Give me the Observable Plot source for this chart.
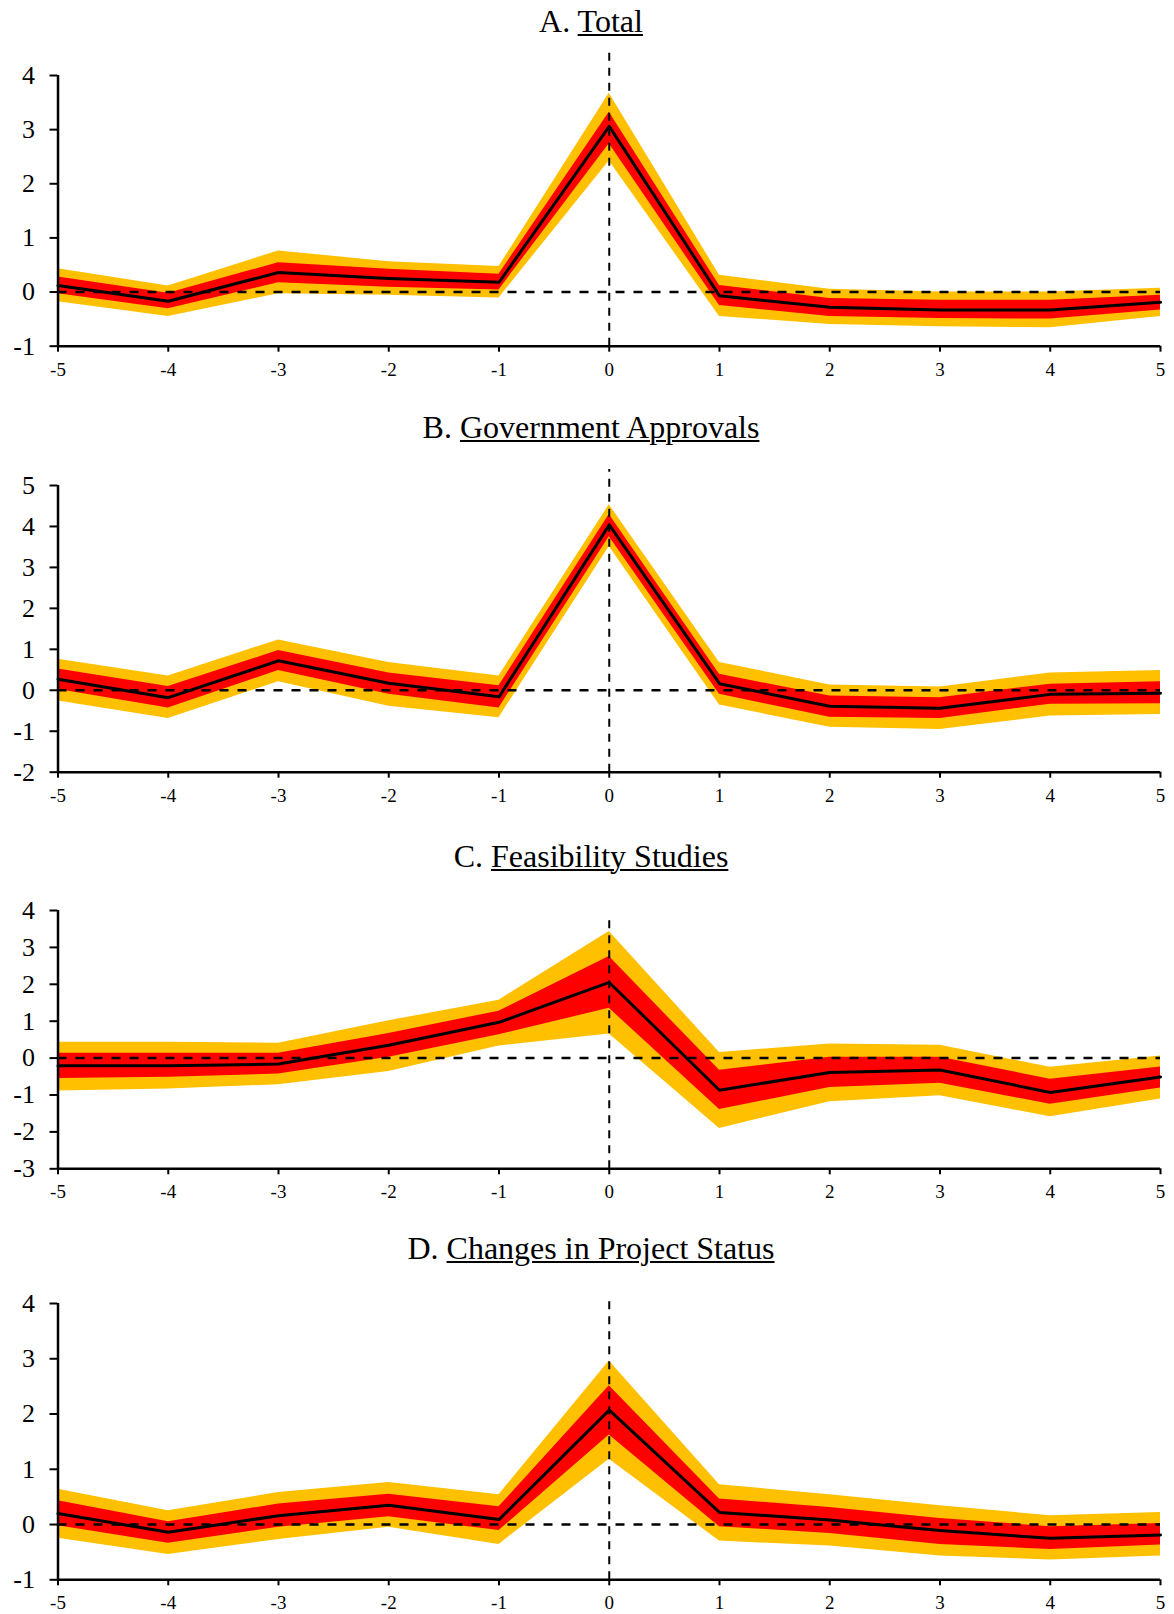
<!DOCTYPE html>
<html>
<head>
<meta charset="utf-8">
<script src="https://cdn.jsdelivr.net/npm/d3@7"></script>
<script src="https://cdn.jsdelivr.net/npm/@observablehq/plot@0.6"></script>
<style>
  html, body { margin: 0; padding: 0; background: #fff; }
  body { width: 1174px; height: 1614px; position: relative; overflow: hidden; font-family: "Liberation Serif", "Times New Roman", serif; color: #000; }
  .title { position: absolute; left: 591px; transform: translateX(-50%); white-space: nowrap; font-size: 32px; line-height: 32px; }
  .title u { text-decoration-thickness: 2px; text-underline-offset: 2px; }
  .panel { position: absolute; left: 0; }
  .panel svg, .panel svg text { font-family: "Liberation Serif", "Times New Roman", serif !important; }
  .panel svg g[aria-label="y-axis tick label"], .panel svg g[aria-label="y-axis tick label"] text { font-size: 26px !important; }
  .panel svg g[aria-label="x-axis tick label"], .panel svg g[aria-label="x-axis tick label"] text { font-size: 19px !important; }
</style>
</head>
<body>
<script>
// Horizons (x categories)
const horizons = [-5, -4, -3, -2, -1, 0, 1, 2, 3, 4, 5];

// Panel titles
const prefixes = ["A.", "B.", "C.", "D."];
const titles = ["Total", "Government Approvals", "Feasibility Studies", "Changes in Project Status"];

// Panel A: Total
const aEst   = [0.12, -0.17, 0.36, 0.25, 0.18, 3.06, -0.07, -0.28, -0.33, -0.33, -0.19];
const aRedLo = [-0.03, -0.31, 0.17, 0.09, 0.04, 2.74, -0.25, -0.45, -0.49, -0.50, -0.33];
const aRedHi = [0.28, -0.02, 0.54, 0.42, 0.33, 3.32, 0.12, -0.12, -0.15, -0.15, -0.06];
const aOrgLo = [-0.18, -0.45, -0.03, -0.06, -0.11, 2.42, -0.45, -0.60, -0.64, -0.66, -0.45];
const aOrgHi = [0.43, 0.11, 0.76, 0.56, 0.47, 3.67, 0.31, 0.05, 0.00, 0.00, 0.07];

// Panel B: Government Approvals
const bEst   = [0.27, -0.18, 0.72, 0.17, -0.16, 4.04, 0.16, -0.39, -0.44, -0.10, -0.07];
const bRedLo = [0.02, -0.43, 0.48, -0.10, -0.43, 3.75, -0.10, -0.66, -0.69, -0.34, -0.33];
const bRedHi = [0.52, 0.09, 0.97, 0.42, 0.11, 4.29, 0.39, -0.14, -0.18, 0.15, 0.21];
const bOrgLo = [-0.26, -0.69, 0.21, -0.39, -0.67, 3.51, -0.36, -0.90, -0.96, -0.63, -0.59];
const bOrgHi = [0.76, 0.35, 1.23, 0.68, 0.35, 4.53, 0.68, 0.13, 0.08, 0.42, 0.48];

// Panel C: Feasibility Studies
const cEst   = [-0.21, -0.21, -0.16, 0.35, 0.97, 2.05, -0.87, -0.39, -0.32, -0.93, -0.51];
const cRedLo = [-0.55, -0.52, -0.43, 0.02, 0.63, 1.35, -1.39, -0.80, -0.68, -1.25, -0.81];
const cRedHi = [0.13, 0.13, 0.13, 0.67, 1.27, 2.75, -0.33, 0.02, 0.02, -0.57, -0.24];
const cOrgLo = [-0.89, -0.84, -0.72, -0.36, 0.33, 0.65, -1.91, -1.18, -1.02, -1.59, -1.11];
const cOrgHi = [0.43, 0.43, 0.40, 1.01, 1.57, 3.43, 0.15, 0.38, 0.35, -0.25, 0.06];

// Panel D: Changes in Project Status
const dEst   = [0.20, -0.14, 0.16, 0.35, 0.09, 2.07, 0.22, 0.08, -0.11, -0.25, -0.19];
const dRedLo = [-0.02, -0.34, -0.05, 0.14, -0.11, 1.62, -0.04, -0.16, -0.36, -0.45, -0.37];
const dRedHi = [0.43, 0.05, 0.37, 0.55, 0.32, 2.51, 0.46, 0.31, 0.11, -0.04, 0.02];
const dOrgLo = [-0.25, -0.54, -0.27, -0.05, -0.36, 1.18, -0.30, -0.39, -0.57, -0.64, -0.57];
const dOrgHi = [0.64, 0.25, 0.58, 0.76, 0.54, 2.96, 0.72, 0.54, 0.34, 0.16, 0.22];

// Y-axis tick values per panel
const aTicks = [-1, 0, 1, 2, 3, 4];
const bTicks = [-2, -1, 0, 1, 2, 3, 4, 5];
const cTicks = [-3, -2, -1, 0, 1, 2, 3, 4];
const dTicks = [-1, 0, 1, 2, 3, 4];

const panels = [
  {est: aEst, rl: aRedLo, rh: aRedHi, ol: aOrgLo, oh: aOrgHi, ticks: aTicks, vTop: 4.41, top: 45, plotH: 270.7, titleTop: 4.9},
  {est: bEst, rl: bRedLo, rh: bRedHi, ol: bOrgLo, oh: bOrgHi, ticks: bTicks, vTop: 5.39, top: 455, plotH: 286.7, titleTop: 411},
  {est: cEst, rl: cRedLo, rh: cRedHi, ol: cOrgLo, oh: cOrgHi, ticks: cTicks, vTop: 3.78, top: 880, plotH: 258.3, titleTop: 839.9},
  {est: dEst, rl: dRedLo, rh: dRedHi, ol: dOrgLo, oh: dOrgHi, ticks: dTicks, vTop: 4.07, top: 1272.7, plotH: 276.3, titleTop: 1232}
];

const MT = 30, MB = 36;
const SERIF = "'Liberation Serif', 'Times New Roman', serif";

panels.forEach((p, k) => {
  const data = horizons.map((h, i) => ({h, est: p.est[i], rl: p.rl[i], rh: p.rh[i], ol: p.ol[i], oh: p.oh[i]}));
  const yMin = d3.min(p.ticks), yMax = d3.max(p.ticks);

  const t = document.createElement("div");
  t.className = "title";
  t.style.top = p.titleTop + "px";
  t.innerHTML = prefixes[k] + " <u>" + titles[k] + "</u>";
  document.body.appendChild(t);

  const chart = Plot.plot({
    width: 1174,
    height: MT + p.plotH + MB,
    marginLeft: 57.5,
    marginRight: 14,
    marginTop: MT,
    marginBottom: MB,
    style: {fontFamily: SERIF, background: "white", color: "black", overflow: "visible"},
    x: {domain: [-5, 5]},
    y: {domain: [yMin, yMax]},
    marks: [
      Plot.areaY(data, {x: "h", y1: "ol", y2: "oh", fill: "#FFC000"}),
      Plot.areaY(data, {x: "h", y1: "rl", y2: "rh", fill: "#FF0000"}),
      Plot.ruleY([0], {x1: -5, x2: 5, stroke: "black", strokeWidth: 2.5, strokeDasharray: "9,9"}),
      Plot.ruleX([0], {y1: yMin, y2: p.vTop, stroke: "black", strokeWidth: 2, strokeDasharray: "8,7"}),
      Plot.lineY(data, {x: "h", y: "est", stroke: "black", strokeWidth: 3}),
      Plot.axisX({ticks: horizons, tickSize: 6, tickPadding: 10, fontSize: 19, fontFamily: SERIF, strokeWidth: 2, tickFormat: d => String(d), label: null}),
      Plot.axisY({ticks: p.ticks, tickSize: 8, tickPadding: 15, fontSize: 26, fontFamily: SERIF, strokeWidth: 2, tickFormat: d => String(d), label: null}),
      Plot.ruleX([-5], {y1: yMin, y2: yMax, stroke: "black", strokeWidth: 2.5}),
      Plot.ruleY([yMin], {x1: -5, x2: 5, stroke: "black", strokeWidth: 2.5})
    ]
  });
  const wrap = document.createElement("div");
  wrap.className = "panel";
  wrap.style.top = p.top + "px";
  wrap.appendChild(chart);
  document.body.appendChild(wrap);
});
</script>
</body>
</html>
